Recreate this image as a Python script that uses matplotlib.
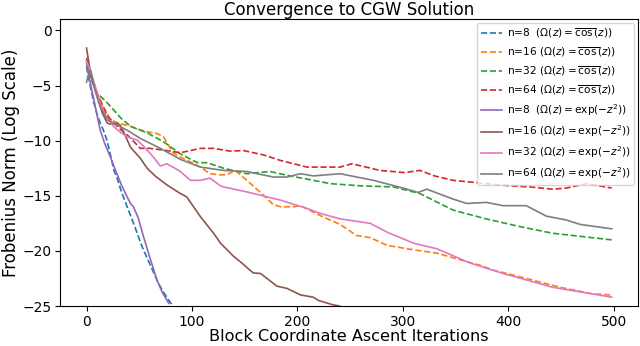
import matplotlib
matplotlib.use("Agg")
import matplotlib.pyplot as plt

# values (iteration, log frobenius norm)
cos8_x = [0, 3, 7, 10, 13, 16, 19.5, 22.7, 26, 29, 33, 38.5, 45, 52.6, 60.5, 68.5, 74, 81]
cos8_y = [-3.3, -4.8, -6.6, -7.6, -8.4, -9.05, -10.0, -11.3, -12.7, -13.4, -14.6, -16.0, -17.6, -19.6, -21.3, -23.0, -23.9, -24.9]

cos16_x = [0, 4, 10, 16, 22.7, 30, 41.7, 50, 57.5, 67, 73, 82, 89, 100, 108, 117, 127, 133, 141, 152, 165, 177, 184, 196, 203,
           221.6, 240.5, 256, 269, 285, 310, 332, 354, 373, 386, 417, 449, 480, 498]
cos16_y = [-3.2, -3.9, -5.6, -6.9, -8.1, -8.4, -8.7, -9.0, -9.2, -9.35, -9.65, -11.1, -11.5, -12.0, -12.4, -13.0, -13.1, -13.1, -12.7,
           -13.6, -14.7, -15.8, -16.0, -16.0, -15.9, -16.8, -17.6, -18.6, -18.8, -19.5, -19.9, -20.2, -20.8, -21.3, -21.75, -22.5,
           -23.3, -23.9, -24.0]

cos32_x = [0, 5, 10, 18, 25.6, 33, 41.7, 57.5, 73, 89, 105, 114, 130, 152, 174, 193, 215, 231, 260, 291, 316, 347.6, 379, 411, 442,
           470, 498]
cos32_y = [-3.0, -4.6, -5.7, -6.4, -7.2, -8.0, -8.7, -9.3, -10.1, -11.2, -12.0, -12.0, -12.5, -13.0, -12.8, -13.2, -13.6, -13.9,
           -14.1, -14.2, -14.8, -16.3, -17.1, -17.8, -18.4, -18.7, -19.0]

cos64_x = [0, 5, 10, 20, 30, 40, 51, 60, 76, 89, 108, 120.5, 136, 149, 168, 184, 209, 222, 240.5, 251.6, 265, 278, 302, 316, 330,
           347.6, 379, 401.5, 420, 442, 455, 474, 498]
cos64_y = [-2.5, -4.3, -5.8, -7.8, -8.8, -9.6, -10.7, -10.7, -10.9, -11.1, -10.7, -10.7, -10.95, -10.9, -11.3, -11.8, -12.4, -12.4,
           -12.4, -12.1, -12.4, -12.7, -12.9, -12.7, -13.2, -13.6, -13.9, -14.1, -14.2, -14.4, -14.3, -13.9, -14.3]

exp8_x = [0, 3, 7, 10, 13, 17, 22.7, 27.5, 33, 38, 41.7, 44.5, 49, 54, 60, 67, 72, 78]
exp8_y = [-2.8, -4.5, -6.3, -7.7, -9.05, -10.2, -11.5, -12.7, -14.0, -15.0, -15.7, -16.0, -17.0, -18.7, -20.6, -22.7, -23.8, -24.75]

exp16_x = [0, 4, 10, 15, 19.6, 22, 25.9, 29, 32, 36, 41.7, 51, 57.5, 65, 76, 89, 95, 108, 120.5, 127, 139.5, 146, 158, 165, 180.6, 190,
           203, 215, 220, 234, 240]
exp16_y = [-1.6, -4.0, -6.0, -7.5, -8.4, -8.5, -8.5, -8.4, -8.6, -9.4, -10.6, -11.6, -12.5, -13.2, -14.0, -14.8, -15.1, -16.9, -18.4,
           -19.3, -20.5, -21.0, -22.0, -22.05, -23.2, -23.4, -24.0, -24.2, -24.5, -24.9, -25.0]

exp32_x = [0, 4, 8, 13, 19, 26, 33, 38.5, 48, 55, 63.5, 70, 76, 82, 89, 98.5, 108, 117, 127, 130, 152, 184, 209, 221.6, 240.5, 269,
           285, 310, 332, 363.6, 395, 442, 498]
exp32_y = [-2.8, -3.8, -5.0, -6.6, -7.9, -8.75, -9.3, -9.65, -9.95, -10.6, -11.5, -12.3, -12.1, -12.4, -12.8, -13.6, -13.6, -13.4,
           -14.1, -14.2, -14.65, -15.4, -16.15, -16.6, -17.1, -17.5, -18.3, -19.3, -19.8, -21.1, -22.05, -23.3, -24.2]

exp64_x = [0, 2, 4, 8, 13, 19.6, 29, 38.5, 51, 70, 89, 108, 130, 152, 177, 190, 203, 215, 240.5, 272, 300, 314.5, 322.6, 347.6,
           360.5, 379, 395, 417, 436, 455, 468, 498]
exp64_y = [-4.7, -3.9, -3.6, -5.4, -6.9, -8.1, -8.6, -9.05, -9.8, -10.7, -11.7, -12.4, -12.7, -12.8, -13.3, -13.3, -13.0, -13.2,
           -13.0, -13.6, -14.3, -14.7, -14.4, -15.3, -15.7, -15.6, -15.9, -15.9, -16.85, -17.2, -17.6, -18.0]

cos_lab = r'($\Omega(z) = \overline{\cos}(z)$)'
exp_lab = r'($\Omega(z) = \exp(-z^2)$)'

fig = plt.figure(figsize=(6.4, 3.46), dpi=100)
ax = fig.add_axes([0.094, 0.1156, 0.903, 0.8284])

ax.plot(cos8_x, cos8_y, '--', color='C0', lw=1.2, label='n=8  ' + cos_lab)
ax.plot(cos16_x, cos16_y, '--', color='C1', lw=1.2, label='n=16 ' + cos_lab)
ax.plot(cos32_x, cos32_y, '--', color='C2', lw=1.2, label='n=32 ' + cos_lab)
ax.plot(cos64_x, cos64_y, '--', color='C3', lw=1.2, label='n=64 ' + cos_lab)
ax.plot(exp8_x, exp8_y, '-', color='C4', lw=1.2, label='n=8  ' + exp_lab)
ax.plot(exp16_x, exp16_y, '-', color='C5', lw=1.2, label='n=16 ' + exp_lab)
ax.plot(exp32_x, exp32_y, '-', color='C6', lw=1.2, label='n=32 ' + exp_lab)
ax.plot(exp64_x, exp64_y, '-', color='C7', lw=1.2, label='n=64 ' + exp_lab)

ax.set_xlim(-25, 523)
ax.set_ylim(-25, 1)
ax.set_xticks([0, 100, 200, 300, 400, 500])
ax.set_yticks([0, -5, -10, -15, -20, -25])
ax.tick_params(labelsize=10)
ax.tick_params(axis='x', pad=3)
ax.tick_params(axis='y', pad=2.5)
ax.set_xlabel('Block Coordinate Ascent Iterations', fontsize=11.6, labelpad=0)
ax.set_ylabel('Frobenius Norm (Log Scale)', fontsize=12, labelpad=2)
ax.set_title('Convergence to CGW Solution', fontsize=12, pad=2)
ax.legend(loc='upper right', fontsize=7.6, borderpad=0.35, handletextpad=0.5,
          labelspacing=0.5, borderaxespad=0.35)

fig.savefig('out.png', dpi=100)
